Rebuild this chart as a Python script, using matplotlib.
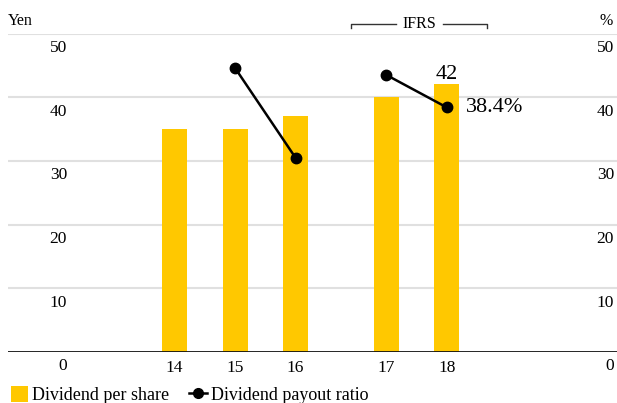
import numpy as np
import matplotlib.pyplot as plt
from matplotlib.transforms import blended_transform_factory
from matplotlib.lines import Line2D
from matplotlib.patches import Patch

plt.rcParams['font.family'] = ['Liberation Serif', 'DejaVu Serif']

# Fiscal years and positions (gap before the IFRS years)
years = ['14', '15', '16', '17', '18']
xpos = [0, 1, 2, 3.5, 4.5]
dividend = [35, 35, 37, 40, 42]           # Yen per share
payout_years = [1, 2, 3.5, 4.5]           # no ratio for FY14
payout = [44.6, 30.5, 43.5, 38.4]         # %
yticks = [0, 10, 20, 30, 40, 50]

bar_color = '#FFC800'
grid_color = '#E0E0E0'
fs = 12.5

fig = plt.figure(figsize=(6.17, 4.03), dpi=100)
W, H = 617, 403
ax = fig.add_axes([8 / W, 51 / H, 609 / W, 318.5 / H])
ax.set_ylim(0, 50)
ax.set_xlim((8 - 174.5) / 60.5, (617 - 174.5) / 60.5)

for y in yticks[1:]:
    ax.axhline(y, color=grid_color, lw=1.5, zorder=0)
ax.axhline(0, color='#111111', lw=2, zorder=3)

ax.bar(xpos, dividend, width=25 / 60.5, color=bar_color, zorder=2)
ax.plot(payout_years[:2], payout[:2], color='black', lw=1.8, marker='o', ms=7.5, zorder=4)
ax.plot(payout_years[2:], payout[2:], color='black', lw=1.8, marker='o', ms=7.5, zorder=4)

for s in ax.spines.values():
    s.set_visible(False)
ax.set_yticks([])
ax.set_xticks(xpos)
ax.set_xticklabels(years, fontsize=fs)
ax.tick_params(axis='x', length=0, pad=6)

# y labels on both sides, sitting just under each gridline
tr = blended_transform_factory(fig.transFigure, ax.transData)
for y in yticks:
    ax.text(67 / W, y - 1.0, str(y), transform=tr, ha='right', va='top', fontsize=fs)
    ax.text(614 / W, y - 1.0, str(y), transform=tr, ha='right', va='top', fontsize=fs)

fig.text(8 / W, 1 - 21 / H, 'Yen', fontsize=fs - 1, va='center', ha='left')
fig.text(613 / W, 1 - 21 / H, '%', fontsize=fs - 1, va='center', ha='right')

# IFRS bracket over FY17-18
by = 1 - 23.5 / H
tk = 4 / H
fig.add_artist(Line2D([351 / W, 351 / W, 396 / W], [by - tk, by, by], color='#333333', lw=1))
fig.add_artist(Line2D([443 / W, 487 / W, 487 / W], [by, by, by - tk], color='#333333', lw=1))
fig.text(419.5 / W, by, 'IFRS', fontsize=fs - 1, ha='center', va='center')

# value callouts
ax.text(xpos[4], dividend[4] + 0.8, str(dividend[4]), ha='center', va='baseline', fontsize=16)
ax.annotate(f'{payout[-1]}%', (payout_years[-1], payout[-1]), xytext=(14, 0),
            textcoords='offset points', ha='left', va='center', fontsize=16)

handles = [Patch(facecolor=bar_color, edgecolor='none'),
           Line2D([], [], color='black', lw=1.8, marker='o', ms=7)]
fig.legend(handles, ['Dividend per share', 'Dividend payout ratio'], loc='lower left',
           bbox_to_anchor=(0, -0.03), ncol=2, frameon=False, fontsize=13,
           handlelength=0.95, handleheight=0.95, handletextpad=0.25, columnspacing=1.1,
           borderaxespad=0.2)

fig.savefig('out.png', dpi=100)
